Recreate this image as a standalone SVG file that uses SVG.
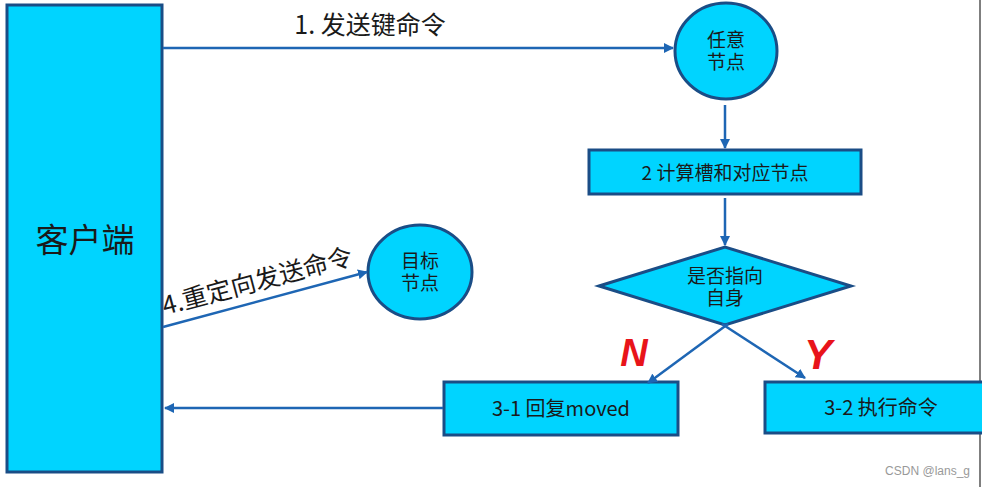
<svg xmlns="http://www.w3.org/2000/svg" width="982" height="487" viewBox="0 0 982 487">
<style>
.n{fill:#00d4ff;stroke:#1a4d86;stroke-width:3}
.t{font-family:"Noto Sans CJK SC","Liberation Sans",sans-serif;fill:#1a1a1a;text-anchor:middle}
.s{font-size:19px}
.m{font-family:"Liberation Sans","Noto Sans CJK SC",sans-serif;font-size:19px;fill:#1a1a1a;text-anchor:middle}
.c{stroke:#1e66b4;stroke-width:2.5;fill:none}
.r{font-family:"Liberation Sans",sans-serif;font-style:italic;font-weight:bold;fill:#e8141a;text-anchor:middle}
</style>
<defs>
<marker id="a" viewBox="0 0 10 10" refX="9" refY="5" markerWidth="4" markerHeight="4" orient="auto" markerUnits="strokeWidth">
<path d="M0,0 L10,5 L0,10 z" fill="#1e66b4"/>
</marker>
</defs>
<rect width="982" height="487" fill="#ffffff"/>
<line x1="980" y1="0" x2="980" y2="487" stroke="#555" stroke-width="1.5"/>
<g id="client">
<rect class="n" x="7" y="5" width="155" height="467"/>
<text class="t" x="85" y="252" font-size="33">客户端</text>
</g>
<g id="anynode">
<ellipse class="n" cx="726" cy="51" rx="51" ry="48"/>
<text class="m" x="726" y="47">任意</text>
<text class="m" x="726" y="69">节点</text>
</g>
<g id="calc">
<rect class="n" x="589" y="150" width="272" height="44"/>
<text class="t s" x="725" y="180">2 计算槽和对应节点</text>
</g>
<g id="decide">
<polygon class="n" points="599,286 725,247 851,286 725,325"/>
<text class="m" x="725" y="283">是否指向</text>
<text class="m" x="725" y="305">自身</text>
</g>
<g id="moved">
<rect class="n" x="444" y="382" width="234" height="53"/>
<text class="t" x="561" y="416" font-size="20">3-1 回复moved</text>
</g>
<g id="exec">
<rect class="n" x="765" y="382" width="225" height="51"/>
<text class="t" x="881" y="415" font-size="20">3-2 执行命令</text>
</g>
<g id="target">
<ellipse class="n" cx="420" cy="272" rx="52" ry="47"/>
<text class="m" x="420" y="268">目标</text>
<text class="m" x="420" y="290">节点</text>
</g>
<g id="connectors">
<line class="c" x1="163" y1="48" x2="673" y2="48" marker-end="url(#a)"/>
<line class="c" x1="725" y1="105" x2="725" y2="148" marker-end="url(#a)"/>
<line class="c" x1="725" y1="198" x2="725" y2="245" marker-end="url(#a)"/>
<line class="c" x1="728" y1="324" x2="648" y2="383" marker-end="url(#a)"/>
<line class="c" x1="722" y1="324" x2="805" y2="378" marker-end="url(#a)"/>
<line class="c" x1="443" y1="408" x2="165" y2="408" marker-end="url(#a)"/>
<line class="c" x1="163" y1="327" x2="367" y2="272" marker-end="url(#a)"/>
<text class="t" x="370" y="34" font-size="25">1. 发送键命令</text>
<text class="t" x="0" y="0" font-size="25" transform="translate(165,315) rotate(-15)" style="text-anchor:start">4.重定向发送命令</text>
<text class="r" x="634" y="366" font-size="38">N</text>
<text class="r" x="818" y="369" font-size="42">Y</text>
</g>
<text x="970" y="475" font-family="Liberation Sans,sans-serif" font-size="12" fill="#999" text-anchor="end">CSDN @lans_g</text>
</svg>
